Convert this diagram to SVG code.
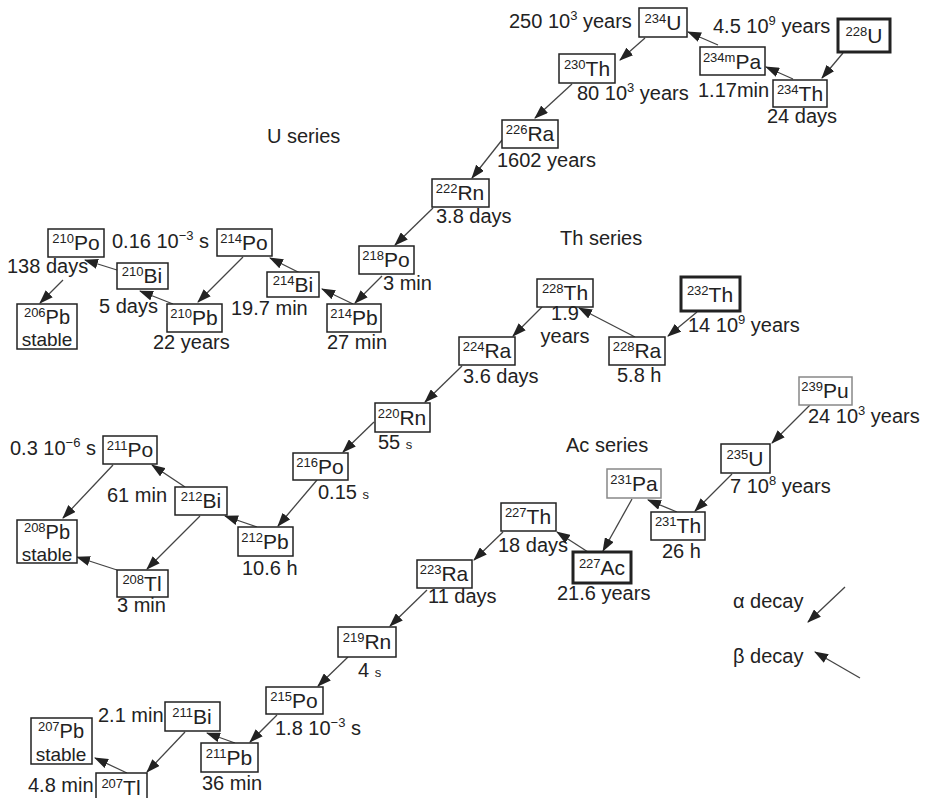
<svg xmlns="http://www.w3.org/2000/svg" width="928" height="798" viewBox="0 0 928 798">
<defs>
<marker id="ah" markerUnits="userSpaceOnUse" markerWidth="14" markerHeight="10" refX="13" refY="5" orient="auto">
<path d="M0,0 L14,5 L0,10 Z" fill="#222"/>
</marker>
</defs>
<style>
text{font-family:"Liberation Sans",Arial,sans-serif;fill:#222;}
.n rect{fill:#fff;stroke:#222;stroke-width:1.5;}
.n.thick rect{stroke-width:3;}
.n.gray rect{stroke:#888;}
.n text{font-size:21px;text-anchor:middle;}
.n text.st{font-size:19px;}
.n text.pb{font-size:20px;}
.m{font-size:13px;}
.l{font-size:20px;}
.s{font-size:13px;}
.sup{font-size:13px;}
#connectors line{stroke:#444;stroke-width:1.3;marker-end:url(#ah);}
</style>
<rect width="928" height="798" fill="#fff"/>

<g id="connectors">
<line x1="843" y1="53" x2="822" y2="78"/>
<line x1="793" y1="79" x2="766" y2="67"/>
<line x1="718" y1="45" x2="688" y2="32"/>
<line x1="645" y1="38" x2="620" y2="60"/>
<line x1="572" y1="84" x2="535" y2="118"/>
<line x1="502" y1="140" x2="472" y2="178"/>
<line x1="433" y1="208" x2="395" y2="245"/>
<line x1="382" y1="276" x2="355" y2="303"/>
<line x1="353" y1="304" x2="322" y2="289"/>
<line x1="300" y1="273" x2="270" y2="258"/>
<line x1="243" y1="257" x2="198" y2="302"/>
<line x1="173" y1="304" x2="140" y2="291"/>
<line x1="117" y1="270" x2="85" y2="260"/>
<line x1="63" y1="280" x2="40" y2="303"/>
<line x1="697" y1="312" x2="668" y2="336"/>
<line x1="635" y1="337" x2="579" y2="308"/>
<line x1="542" y1="307" x2="513" y2="336"/>
<line x1="462" y1="366" x2="425" y2="402"/>
<line x1="374" y1="422" x2="343" y2="452"/>
<line x1="317" y1="480" x2="278" y2="526"/>
<line x1="257" y1="527" x2="225" y2="516"/>
<line x1="185" y1="487" x2="152" y2="465"/>
<line x1="113" y1="465" x2="63" y2="518"/>
<line x1="200" y1="516" x2="147" y2="569"/>
<line x1="117" y1="570" x2="77" y2="557"/>
<line x1="810" y1="405" x2="772" y2="443"/>
<line x1="732" y1="474" x2="695" y2="511"/>
<line x1="677" y1="512" x2="648" y2="500"/>
<line x1="632" y1="499" x2="603" y2="551"/>
<line x1="588" y1="552" x2="557" y2="532"/>
<line x1="503" y1="532" x2="474" y2="560"/>
<line x1="427" y1="590" x2="390" y2="626"/>
<line x1="348" y1="657" x2="318" y2="686"/>
<line x1="277" y1="715" x2="250" y2="742"/>
<line x1="235" y1="743" x2="207" y2="733"/>
<line x1="185" y1="732" x2="147" y2="772"/>
<line x1="127" y1="773" x2="95" y2="758"/>
<line x1="845" y1="587" x2="808" y2="622"/>
<line x1="860" y1="678" x2="815" y2="652"/>
</g>

<!-- U series -->
<g id="U234" class="n"><rect x="639" y="8" width="48" height="29"/><text x="663" y="30"><tspan class="m" dy="-7">234</tspan><tspan dy="7">U</tspan></text></g>
<g id="U228" class="n thick"><rect x="838" y="19" width="52" height="33"/><text x="864" y="43"><tspan class="m" dy="-7">228</tspan><tspan dy="7">U</tspan></text></g>
<g id="Th230" class="n"><rect x="559" y="54" width="56" height="29"/><text x="587" y="76"><tspan class="m" dy="-7">230</tspan><tspan dy="7">Th</tspan></text></g>
<g id="Pa234m" class="n"><rect x="700" y="47" width="65" height="28"/><text x="732" y="69"><tspan class="m" dy="-7">234m</tspan><tspan dy="7">Pa</tspan></text></g>
<g id="Th234" class="n"><rect x="773" y="80" width="54" height="27"/><text x="800" y="101"><tspan class="m" dy="-7">234</tspan><tspan dy="7">Th</tspan></text></g>
<g id="Ra226" class="n"><rect x="502" y="120" width="56" height="28"/><text x="530" y="141"><tspan class="m" dy="-7">226</tspan><tspan dy="7">Ra</tspan></text></g>
<g id="Rn222" class="n"><rect x="432" y="179" width="57" height="28"/><text x="460" y="200"><tspan class="m" dy="-7">222</tspan><tspan dy="7">Rn</tspan></text></g>
<g id="Po218" class="n"><rect x="359" y="246" width="55" height="28"/><text x="386" y="267"><tspan class="m" dy="-7">218</tspan><tspan dy="7">Po</tspan></text></g>
<g id="Po214" class="n"><rect x="217" y="229" width="55" height="27"/><text x="244" y="250"><tspan class="m" dy="-7">214</tspan><tspan dy="7">Po</tspan></text></g>
<g id="Po210" class="n"><rect x="48" y="229" width="56" height="28"/><text x="76" y="250"><tspan class="m" dy="-7">210</tspan><tspan dy="7">Po</tspan></text></g>
<g id="Bi210" class="n"><rect x="117" y="263" width="51" height="26"/><text x="142" y="283"><tspan class="m" dy="-7">210</tspan><tspan dy="7">Bi</tspan></text></g>
<g id="Bi214" class="n"><rect x="267" y="272" width="52" height="25"/><text x="293" y="292"><tspan class="m" dy="-7">214</tspan><tspan dy="7">Bi</tspan></text></g>
<g id="Pb214" class="n"><rect x="327" y="304" width="54" height="28"/><text x="354" y="325"><tspan class="m" dy="-7">214</tspan><tspan dy="7">Pb</tspan></text></g>
<g id="Pb210" class="n"><rect x="167" y="304" width="55" height="28"/><text x="194" y="325"><tspan class="m" dy="-7">210</tspan><tspan dy="7">Pb</tspan></text></g>
<g id="Pb206" class="n"><rect x="17" y="304" width="60" height="45"/><text class="pb" x="47" y="324"><tspan class="m" dy="-7">206</tspan><tspan dy="7">Pb</tspan></text><text class="st" x="47" y="346">stable</text></g>

<!-- Th series -->
<g id="Th228" class="n"><rect x="537" y="279" width="56" height="28"/><text x="565" y="300"><tspan class="m" dy="-7">228</tspan><tspan dy="7">Th</tspan></text></g>
<g id="Th232" class="n thick"><rect x="681" y="277" width="59" height="34"/><text x="710" y="302"><tspan class="m" dy="-7">232</tspan><tspan dy="7">Th</tspan></text></g>
<g id="Ra224" class="n"><rect x="459" y="337" width="56" height="28"/><text x="487" y="358"><tspan class="m" dy="-7">224</tspan><tspan dy="7">Ra</tspan></text></g>
<g id="Ra228" class="n"><rect x="609" y="337" width="56" height="28"/><text x="637" y="358"><tspan class="m" dy="-7">228</tspan><tspan dy="7">Ra</tspan></text></g>
<g id="Rn220" class="n"><rect x="375" y="403" width="55" height="29"/><text x="402" y="425"><tspan class="m" dy="-7">220</tspan><tspan dy="7">Rn</tspan></text></g>
<g id="Po216" class="n"><rect x="293" y="453" width="55" height="27"/><text x="320" y="474"><tspan class="m" dy="-7">216</tspan><tspan dy="7">Po</tspan></text></g>
<g id="Po211" class="n"><rect x="103" y="436" width="54" height="28"/><text x="130" y="457"><tspan class="m" dy="-7">211</tspan><tspan dy="7">Po</tspan></text></g>
<g id="Bi212" class="n"><rect x="175" y="487" width="52" height="28"/><text x="201" y="508"><tspan class="m" dy="-7">212</tspan><tspan dy="7">Bi</tspan></text></g>
<g id="Pb208" class="n"><rect x="17" y="520" width="60" height="43"/><text class="pb" x="47" y="539"><tspan class="m" dy="-7">208</tspan><tspan dy="7">Pb</tspan></text><text class="st" x="47" y="561">stable</text></g>
<g id="Pb212" class="n"><rect x="238" y="527" width="55" height="29"/><text x="265" y="549"><tspan class="m" dy="-7">212</tspan><tspan dy="7">Pb</tspan></text></g>
<g id="Tl208" class="n"><rect x="117" y="570" width="51" height="27"/><text x="142" y="591"><tspan class="m" dy="-7">208</tspan><tspan dy="7">Tl</tspan></text></g>

<!-- Ac series -->
<g id="Pu239" class="n gray"><rect x="799" y="377" width="53" height="28"/><text x="825" y="398"><tspan class="m" dy="-7">239</tspan><tspan dy="7">Pu</tspan></text></g>
<g id="U235" class="n"><rect x="721" y="444" width="49" height="29"/><text x="745" y="466"><tspan class="m" dy="-7">235</tspan><tspan dy="7">U</tspan></text></g>
<g id="Pa231" class="n gray"><rect x="607" y="469" width="54" height="29"/><text x="634" y="491"><tspan class="m" dy="-7">231</tspan><tspan dy="7">Pa</tspan></text></g>
<g id="Th231" class="n"><rect x="651" y="512" width="54" height="28"/><text x="678" y="533"><tspan class="m" dy="-7">231</tspan><tspan dy="7">Th</tspan></text></g>
<g id="Th227" class="n"><rect x="501" y="503" width="55" height="28"/><text x="528" y="524"><tspan class="m" dy="-7">227</tspan><tspan dy="7">Th</tspan></text></g>
<g id="Ac227" class="n thick"><rect x="573" y="552" width="58" height="31"/><text x="602" y="575"><tspan class="m" dy="-7">227</tspan><tspan dy="7">Ac</tspan></text></g>
<g id="Ra223" class="n"><rect x="417" y="560" width="55" height="28"/><text x="444" y="581"><tspan class="m" dy="-7">223</tspan><tspan dy="7">Ra</tspan></text></g>
<g id="Rn219" class="n"><rect x="338" y="627" width="58" height="30"/><text x="367" y="649"><tspan class="m" dy="-7">219</tspan><tspan dy="7">Rn</tspan></text></g>
<g id="Po215" class="n"><rect x="266" y="687" width="57" height="27"/><text x="294" y="708"><tspan class="m" dy="-7">215</tspan><tspan dy="7">Po</tspan></text></g>
<g id="Bi211" class="n"><rect x="165" y="702" width="55" height="29"/><text x="192" y="724"><tspan class="m" dy="-7">211</tspan><tspan dy="7">Bi</tspan></text></g>
<g id="Pb211" class="n"><rect x="201" y="743" width="57" height="29"/><text x="229" y="765"><tspan class="m" dy="-7">211</tspan><tspan dy="7">Pb</tspan></text></g>
<g id="Pb207" class="n"><rect x="31" y="718" width="61" height="46"/><text class="pb" x="61" y="738"><tspan class="m" dy="-7">207</tspan><tspan dy="7">Pb</tspan></text><text class="st" x="61" y="761">stable</text></g>
<g id="Tl207" class="n"><rect x="96" y="773" width="51" height="32"/><text x="121" y="795"><tspan class="m" dy="-7">207</tspan><tspan dy="7">Tl</tspan></text></g>

<!-- labels -->
<g id="labels" class="l">
<text class="l" x="509" y="28">250 10<tspan class="sup" dy="-8">3</tspan><tspan dy="8"> years</tspan></text>
<text class="l" x="713" y="33">4.5 10<tspan class="sup" dy="-8">9</tspan><tspan dy="8"> years</tspan></text>
<text class="l" x="577" y="100">80 10<tspan class="sup" dy="-8">3</tspan><tspan dy="8"> years</tspan></text>
<text class="l" x="698" y="97">1.17min</text>
<text class="l" x="767" y="123">24 days</text>
<text class="l" x="497" y="167">1602 years</text>
<text class="l" x="267" y="143">U series</text>
<text class="l" x="436" y="223">3.8 days</text>
<text class="l" x="560" y="245">Th series</text>
<text class="l" x="112" y="248">0.16 10<tspan class="sup" dy="-8">−3</tspan><tspan dy="8"> s</tspan></text>
<text class="l" x="7" y="273">138 days</text>
<text class="l" x="99" y="313">5 days</text>
<text class="l" x="231" y="315">19.7 min</text>
<text class="l" x="383" y="290">3 min</text>
<text class="l" x="153" y="349">22 years</text>
<text class="l" x="327" y="349">27 min</text>
<text class="l" x="565" y="320" text-anchor="middle">1.9</text>
<text class="l" x="565" y="343" text-anchor="middle">years</text>
<text class="l" x="688" y="332">14 10<tspan class="sup" dy="-8">9</tspan><tspan dy="8"> years</tspan></text>
<text class="l" x="463" y="383">3.6 days</text>
<text class="l" x="617" y="382">5.8 h</text>
<text class="l" x="808" y="423">24 10<tspan class="sup" dy="-8">3</tspan><tspan dy="8"> years</tspan></text>
<text class="l" x="378" y="449">55 <tspan class="s">s</tspan></text>
<text class="l" x="566" y="452">Ac series</text>
<text class="l" x="10" y="455">0.3 10<tspan class="sup" dy="-8">−6</tspan><tspan dy="8"> s</tspan></text>
<text class="l" x="730" y="493">7 10<tspan class="sup" dy="-8">8</tspan><tspan dy="8"> years</tspan></text>
<text class="l" x="107" y="502">61 min</text>
<text class="l" x="318" y="499">0.15 <tspan class="s">s</tspan></text>
<text class="l" x="498" y="552">18 days</text>
<text class="l" x="662" y="558">26 h</text>
<text class="l" x="242" y="575">10.6 h</text>
<text class="l" x="428" y="603">11 days</text>
<text class="l" x="557" y="600">21.6 years</text>
<text class="l" x="117" y="612">3 min</text>
<text class="l" x="733" y="608">α decay</text>
<text class="l" x="733" y="663">β decay</text>
<text class="l" x="358" y="677">4 <tspan class="s">s</tspan></text>
<text class="l" x="98" y="722">2.1 min</text>
<text class="l" x="275" y="735">1.8 10<tspan class="sup" dy="-8">−3</tspan><tspan dy="8"> s</tspan></text>
<text class="l" x="202" y="790">36 min</text>
<text class="l" x="28" y="792">4.8 min</text>
</g>
</svg>
